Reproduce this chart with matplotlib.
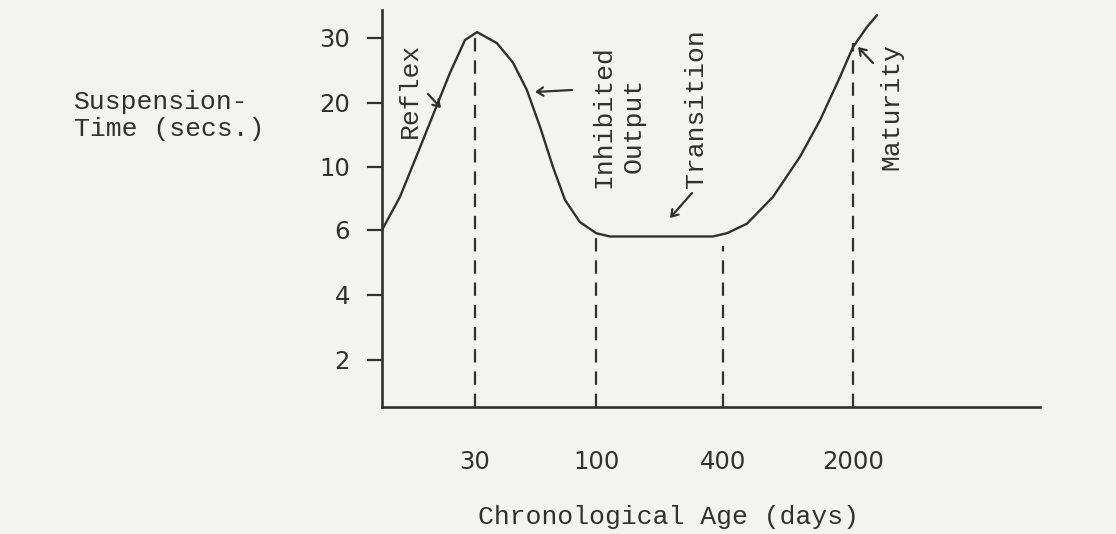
import numpy as np
import matplotlib.pyplot as plt

W, H = 1116, 534

# curve: age in days, suspension time in secs
age_days = [0, 5.8, 12.3, 17.1, 21.9, 26.8, 31.2, 42.7, 52, 60, 67.6, 75.1, 82.1,
            90.7, 100.6, 133, 251, 376, 449, 695, 1015, 1348, 1594, 1840, 2000,
            2225, 2385]
susp_secs = [6, 8.1, 13.1, 18.9, 24.6, 29.7, 30.9, 29.2, 26.2, 22, 16.3, 10, 7.9,
             6.5, 5.9, 5.8, 5.8, 5.8, 5.9, 6.4, 8.1, 11.6, 17.3, 24, 28.6,
             31.7, 33.5]

# dashed stage boundaries (age) and where they start (secs)
stage_ages = [30, 100, 400, 2000]
stage_tops = [30, 5.8, 5.5, 29.2]

x_ticks = [30, 100, 400, 2000]
y_ticks = [2, 4, 6, 10, 20, 30]

# the hand drawn axes are not linear: value -> distance along axis (px)
x_anchor_val = [0, 30, 100, 400, 2000, 5000]
x_anchor_pos = [0, 93, 214, 341, 471, 658]
y_anchor_val = [0, 2, 4, 6, 10, 20, 30, 40]
y_anchor_pos = [0, 47, 112, 177, 240, 304, 369, 434]

ink = '#303030'
paper = '#f3f3f1'
mono = 'Liberation Mono'


def fx(x):
    return x / W


def fy(y):
    return 1 - y / H


def fwd_x(v):
    return np.interp(v, x_anchor_val, x_anchor_pos)


def inv_x(p):
    return np.interp(p, x_anchor_pos, x_anchor_val)


def fwd_y(v):
    return np.interp(v, y_anchor_val, y_anchor_pos)


def inv_y(p):
    return np.interp(p, y_anchor_pos, y_anchor_val)


fig = plt.figure(figsize=(W / 100, H / 100), dpi=100, facecolor=paper)
ax = fig.add_axes([fx(382), fy(407), fx(1040) - fx(382), fy(10) - fy(407)])
ax.set_facecolor('none')

ax.set_xscale('function', functions=(fwd_x, inv_x))
ax.set_yscale('function', functions=(fwd_y, inv_y))
ax.set_xlim(0, 5000)
ax.set_ylim(0, 34.3)

ax.plot(age_days, susp_secs, color=ink, lw=1.7, solid_capstyle='round',
        solid_joinstyle='round', clip_on=False)
ax.vlines(stage_ages, 0, stage_tops, colors=ink, lw=1.6,
          linestyles=(0, (6, 4)))

for side in ['top', 'right']:
    ax.spines[side].set_visible(False)
for side in ['left', 'bottom']:
    ax.spines[side].set_color(ink)
    ax.spines[side].set_linewidth(1.9)

ax.set_xticks(x_ticks)
ax.set_xticklabels([str(v) for v in x_ticks])
ax.set_yticks(y_ticks)
ax.set_yticklabels([str(v) for v in y_ticks])
ax.minorticks_off()
ax.tick_params(axis='y', direction='out', length=11, width=1.6, color=ink,
               pad=12, labelsize=17.5, labelcolor=ink)
ax.tick_params(axis='x', length=0, pad=31, labelsize=17.5, labelcolor=ink)
for lab in ax.get_xticklabels() + ax.get_yticklabels():
    lab.set_family('DejaVu Sans')

# axis titles, typewritten
fig.text(fx(74), fy(102), 'Suspension-', family=mono, fontsize=19, color=ink,
         ha='left', va='center')
fig.text(fx(74), fy(129), 'Time (secs.)', family=mono, fontsize=19, color=ink,
         ha='left', va='center')
fig.text(fx(668), fy(517), 'Chronological Age (days)', family=mono, fontsize=19,
         color=ink, ha='center', va='center')

# stage names
for s, x, y in [('Reflex', 410, 90), ('Inhibited', 603, 117), ('Output', 634, 125),
                ('Transition', 696, 109), ('Maturity', 891, 107)]:
    fig.text(fx(x), fy(y), s, family=mono, fontsize=19, color=ink,
             rotation=90, ha='center', va='center')

# little hand drawn arrows
for tail, tip in [((428, 94), (441, 108)), ((572, 90), (535, 92)),
                  ((692, 193), (670, 218)), ((873, 63), (858, 47))]:
    ax.annotate('', xy=(tip[0], H - tip[1]), xycoords='figure pixels',
                xytext=(tail[0], H - tail[1]), textcoords='figure pixels',
                arrowprops=dict(arrowstyle='->,head_length=0.45,head_width=0.3',
                                color=ink, lw=1.6, shrinkA=0, shrinkB=0))

fig.savefig('out.png', dpi=100, facecolor=paper)
